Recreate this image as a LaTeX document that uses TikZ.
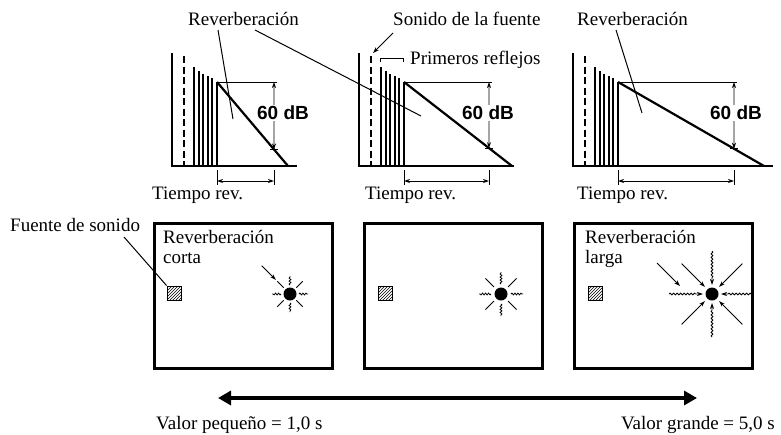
\documentclass[tikz,border=0pt]{standalone}
\usepackage{fontspec}
\setmainfont{Liberation Serif}
\newfontfamily\dbfont{Liberation Sans}
\usetikzlibrary{arrows.meta,calc,decorations.pathmorphing,patterns}

\tikzset{
  lbl/.style={font=\fontsize{19}{21}\selectfont, inner sep=0pt, anchor=base west},
  dbtext/.style={font=\dbfont\bfseries\fontsize{19}{21}\selectfont, fill=white, inner sep=1pt},
  axisline/.style={line width=1.2pt},
  dashline/.style={line width=1.8pt, dash pattern=on 7pt off 3.5pt},
  barline/.style={line width=2pt},
  decayline/.style={line width=2.2pt},
  thinline/.style={line width=0.9pt},
  leader/.style={line width=1pt},
  dimarrow/.style={line width=0.9pt, {Stealth[length=6pt,width=4pt]}-{Stealth[length=6pt,width=4pt]}},
  onearrow/.style={line width=0.9pt, -{Stealth[length=6pt,width=4pt]}},
  roombox/.style={draw, line width=2.6pt, minimum width=178pt, minimum height=145pt, inner sep=0pt, anchor=north west},
  srcbox/.style={draw, line width=0.8pt, pattern=north east lines, minimum size=14pt, inner sep=0pt},
  sundot/.style={circle, fill=black, minimum size=13pt, inner sep=0pt},
  wavy/.style={line width=0.8pt, decorate, decoration={snake, amplitude=0.9pt, segment length=3pt}},
  wavyin/.style={line width=0.8pt, decorate, decoration={snake, amplitude=0.9pt, segment length=3.5pt, post length=6pt}, -{Stealth[length=6pt,width=4pt]}},
  rayline/.style={line width=0.9pt},
  bigarrow/.style={line width=4.2pt, {Triangle[length=13pt,width=14pt]}-{Triangle[length=13pt,width=14pt]}}
}

% #1 name, #2 axis x, #3 decay end x, #4 ref end x, #5 60dB arrow x, #6 60dB text x, #7 baseline end, #8 Tiempo text left
\newcommand\myRevGraph[8]{%
 \coordinate (#1top) at (#2,53);
 \coordinate (#1org) at (#2,166);
 \coordinate (#1end) at (#7,166);
 \coordinate (#1peak) at ({#2+45},82);
 \coordinate (#1peakb) at ({#2+45},166);
 \coordinate (#1decay) at (#3,166);
 \coordinate (#1ref) at (#4,82);
 \coordinate (#1dbtop) at (#5,82);
 \coordinate (#1dbbot) at ($(#1peak)!{(#5-#2-45)/(#3-#2-45)}!(#1decay)$);
 \draw[axisline] (#1top) -- (#1org) -- (#1end);
 \draw[dashline] ({#2+12},56) -- ({#2+12},166);
 \foreach \dx/\ty in {22/67,26.6/71,31.2/74,35.8/76,40.4/78}
   \draw[barline] ({#2+\dx},\ty) -- ({#2+\dx},166);
 \draw[barline] (#1peak) -- (#1peakb);
 \draw[decayline] (#1peak) -- (#1decay);
 \draw[thinline] (#1peak) -- (#1ref);
 \draw[dimarrow] (#1dbtop) -- (#1dbbot);
 \draw[thinline] ([xshift=-4pt]#1dbbot) -- ([xshift=4pt]#1dbbot);
 \node[dbtext] (#1db) at (#6,113) {60 dB};
 \coordinate (#1ta) at ({#2+45},181);
 \coordinate (#1tb) at (#5,181);
 \draw[thinline] ({#2+45},170) -- ({#2+45},185);
 \draw[thinline] (#5,170) -- (#5,185);
 \draw[dimarrow] (#1ta) -- (#1tb);
 \node[lbl] (#1tiempo) at (#8,199) {Tiempo rev.};
}

% #1 sun name, #2 inner r, #3 outer r
\newcommand\mySunRays[3]{%
 \foreach \ang in {0,90,180,270}
   \draw[wavy] ($(#1)+(\ang:#2)$) -- ($(#1)+(\ang:#3)$);
 \foreach \ang in {45,135,225,315}
   \draw[rayline] ($(#1)+(\ang:#2)$) -- ($(#1)+(\ang:#3)$);
}

\begin{document}
\begin{tikzpicture}[x=1pt,y=-1pt]
\useasboundingbox (0,0) rectangle (781,434);

% ---------- graphs ----------
\myRevGraph{ga}{172}{288}{277}{274}{283}{297}{152}
\myRevGraph{gb}{359}{512}{492}{489}{488}{514}{365}
\myRevGraph{gc}{573}{764}{737}{734}{736}{773}{577}

% top labels
\node[lbl] (rev1) at (188,25) {Reverberación};
\node[lbl] (sonido) at (393,25) {Sonido de la fuente};
\node[lbl] (rev3) at (577,25) {Reverberación};
\node[lbl] (primeros) at (410,64) {Primeros reflejos};

% leaders
\coordinate (rv1a) at (218,30); \coordinate (rv1b) at (233,119);
\draw[leader] (rv1a) -- (rv1b);
\coordinate (rv2a) at (255,30); \coordinate (rv2b) at (421,116);
\draw[leader] (rv2a) -- (rv2b);
\coordinate (rv3a) at (616,30); \coordinate (rv3b) at (642,113);
\draw[leader] (rv3a) -- (rv3b);
\coordinate (soa) at (393,33); \coordinate (sob) at (373,53);
\draw[onearrow] (soa) -- (sob);
% bracket for early reflections
\coordinate (bra) at (380,62); \coordinate (brb) at (380,58);
\coordinate (brc) at (403,58); \coordinate (brd) at (403,62);
\draw[thinline] (bra) -- (brb) -- (brc) -- (brd);

% ---------- rooms ----------
\node[roombox] (room1) at (153,222) {};
\node[roombox] (room2) at (363,222) {};
\node[roombox] (room3) at (573,222) {};

\node[lbl] (fuente) at (10,231) {Fuente de sonido};
\node[lbl] (corta1) at (163,243) {Reverberación};
\node[lbl] (corta2) at (163,263) {corta};
\node[lbl] (larga1) at (585,243) {Reverberación};
\node[lbl] (larga2) at (585,263) {larga};

\node[srcbox] (src1) at (174,293) {};
\node[srcbox] (src2) at (385,293) {};
\node[srcbox] (src3) at (595,293) {};
\coordinate (fla) at (124,237);
\draw[leader] (fla) -- (src1.north west);

% room 1 listener
\node[sundot] (sun1) at (290,294) {};
\mySunRays{sun1}{9}{18}
\coordinate (s1a) at ($(sun1)+(225:40)$);
\coordinate (s1b) at ($(sun1)+(225:20)$);
\draw[onearrow] (s1a) -- (s1b);

% room 2 listener
\node[sundot] (sun2) at (501,294) {};
\mySunRays{sun2}{10}{22}

% room 3 listener
\node[sundot] (sun3) at (712,294) {};
\foreach \ang in {90,180,270}
  \draw[wavyin] ($(sun3)+(\ang:43)$) -- ($(sun3)+(\ang:9)$);
\coordinate (s3e) at (753,294);
\draw[wavyin] (s3e) -- ($(sun3)+(0:9)$);
\foreach \ang in {45,135,225,315}
  \draw[onearrow] ($(sun3)+(\ang:43)$) -- ($(sun3)+(\ang:10)$);
\coordinate (s3a) at (657,263); \coordinate (s3b) at (680,286);
\draw[onearrow] (s3a) -- (s3b);

% ---------- bottom scale ----------
\coordinate (lo) at (218,398);
\coordinate (hi) at (697,398);
\draw[bigarrow] (lo) -- (hi);
\node[lbl] (small) at (156,429) {Valor pequeño = 1,0 s};
\node[lbl, anchor=base east] (large) at (775,429) {Valor grande = 5,0 s};
\end{tikzpicture}
\end{document}
